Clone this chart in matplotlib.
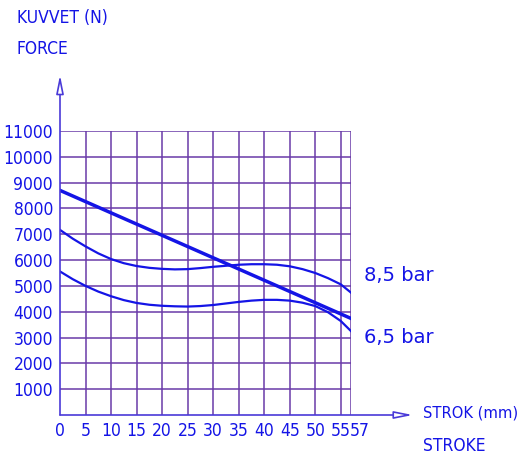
import matplotlib
matplotlib.use("Agg")
from matplotlib import pyplot as plt
from matplotlib.transforms import ScaledTranslation

# stroke (mm) and force (N)
stroke = [0, 2.5, 5, 7.5, 10, 12.5, 15, 17.5, 20, 22.5, 25, 27.5, 30,
          32.5, 35, 37.5, 40, 42.5, 45, 47.5, 50, 52.5, 55, 57]
force_85 = [7170, 6830, 6530, 6260, 6040, 5880, 5770, 5700, 5660, 5640, 5650, 5690, 5740,
            5780, 5820, 5840, 5840, 5820, 5760, 5650, 5500, 5300, 5060, 4740]
force_65 = [5560, 5260, 5000, 4780, 4600, 4450, 4340, 4270, 4230, 4210, 4200, 4220, 4260,
            4320, 4380, 4430, 4460, 4460, 4430, 4350, 4220, 3980, 3640, 3250]
line_x = [0, 57]
line_y = [8700, 3740]

xticks = [0, 5, 10, 15, 20, 25, 30, 35, 40, 45, 50, 55, 57]
yticks = [1000, 2000, 3000, 4000, 5000, 6000, 7000, 8000, 9000, 10000, 11000]

blue = "#1414e6"
grid = "#6a3aa8"

fig = plt.figure(figsize=(5.22, 4.59), dpi=100)
ax = fig.add_axes([60/522, 1-415/459, 291/522, 284/459])

ax.set_xlim(0, 57)
ax.set_ylim(0, 11000)
for s in ax.spines.values():
    s.set_visible(False)

for x in xticks[1:]:
    ax.axvline(x, color=grid, lw=1.1, zorder=1)
for y in yticks:
    ax.axhline(y, color=grid, lw=1.1, zorder=1)

ax.plot(stroke, force_85, color=blue, lw=1.6, zorder=3)
ax.plot(stroke, force_65, color=blue, lw=1.6, zorder=3)
ax.plot(line_x, line_y, color=blue, lw=2.5, zorder=3)

ax.set_xticks(xticks)
ax.set_xticklabels([str(t) for t in xticks])
ax.set_yticks(yticks)
ax.set_yticklabels([str(t) for t in yticks])
ax.tick_params(length=0, pad=5, labelcolor=blue, labelsize=12.5)
for lbl in ax.get_xticklabels() + ax.get_yticklabels():
    lbl.set_fontstretch("condensed")
last = ax.get_xticklabels()[-1]
last.set_transform(last.get_transform() + ScaledTranslation(9/100, 0, fig.dpi_scale_trans))

# axes with open arrows
arrow = dict(arrowstyle="-|>,head_length=1.1,head_width=0.22", color="#4a3ad8",
             fc="white", lw=1.2, shrinkA=0, shrinkB=0)
ax.annotate("", xy=(0, 13170), xytext=(0, 0), arrowprops=arrow, annotation_clip=False)
ax.annotate("", xy=(69.1, 0), xytext=(0, 0), arrowprops=arrow, annotation_clip=False)

ax.text(59.6, 5410, "8,5 bar", color=blue, fontsize=14, va="center", ha="left")
ax.text(59.6, 2990, "6,5 bar", color=blue, fontsize=14, va="center", ha="left")

lab = dict(color=blue, fontsize=12.5, fontstretch="condensed", va="center")
fig.text(17/522, 1-18/459, "KUVVET (N)", **lab)
fig.text(17/522, 1-49/459, "FORCE", **lab)
fig.text(423/522, 1-413/459, "STROK (mm)", color=blue, fontsize=11.8,
         fontstretch="condensed", va="center")
fig.text(423/522, 1-446/459, "STROKE", **lab)

fig.savefig("out.png", dpi=100)
